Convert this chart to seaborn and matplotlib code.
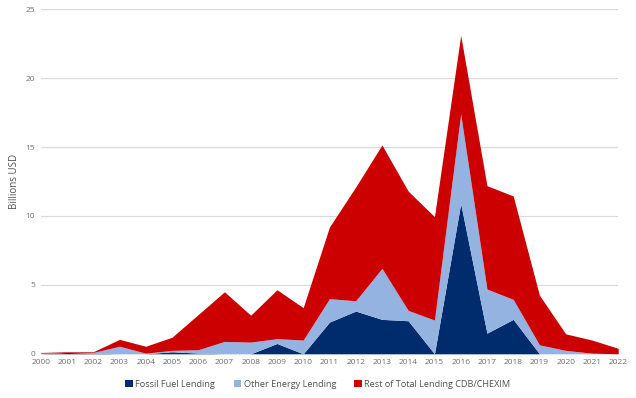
import pandas as pd
import numpy as np
import matplotlib
matplotlib.use("Agg")
import matplotlib.pyplot as plt
import seaborn as sns
from matplotlib.patches import Patch

years = list(range(2000, 2023))

# stacked tops (billions USD)
fossil = [0.0, 0.1, 0.05, 0.0, 0.0, 0.15, 0.05, 0.0, 0.0, 0.75, 0.0, 2.3,
          3.1, 2.5, 2.4, 0.0, 10.9, 1.5, 2.5, 0.0, 0.0, 0.0, 0.0]
energy_top = [0.05, 0.1, 0.1, 0.55, 0.05, 0.25, 0.3, 0.9, 0.85, 1.1, 1.0, 4.0,
              3.85, 6.2, 3.15, 2.45, 17.4, 4.7, 3.95, 0.65, 0.25, 0.05, 0.0]
total = [0.1, 0.15, 0.15, 1.05, 0.55, 1.2, 2.85, 4.5, 2.8, 4.65, 3.35, 9.2,
         12.1, 15.15, 11.8, 9.95, 23.1, 12.2, 11.45, 4.25, 1.45, 1.0, 0.4]

other = [b - a for a, b in zip(fossil, energy_top)]
rest = [c - b for b, c in zip(energy_top, total)]

series = ["Fossil Fuel Lending", "Other Energy Lending", "Rest of Total Lending CDB/CHEXIM"]
colors = ["#002C6E", "#95B3E0", "#CC0000"]

df = pd.DataFrame({"year": years * 3,
                   "value": fossil + other + rest,
                   "series": [series[0]] * len(years) + [series[1]] * len(years) + [series[2]] * len(years)})

sns.set_theme(style="white")
plt.rcParams["font.family"] = ["Open Sans", "DejaVu Sans"]

fig, ax = plt.subplots(figsize=(6.36, 3.98), dpi=100)
fig.subplots_adjust(left=0.064, right=0.972, top=0.977, bottom=0.111)

wide = df.pivot(index="year", columns="series", values="value")[series]
ax.stackplot(wide.index, [wide[s] for s in series], colors=colors, linewidth=0, zorder=3)

ax.set_xlim(2000, 2022)
ax.set_ylim(0, 25)
ax.set_xticks(years)
ax.set_yticks([0, 5, 10, 15, 20, 25])
ax.tick_params(axis="both", labelsize=6, colors="#707070", length=0, pad=4)
ax.yaxis.grid(True, color="#DADADA", linewidth=0.9, zorder=0)
ax.xaxis.grid(False)
sns.despine(ax=ax, left=True, bottom=True)
ax.set_ylabel("Billions USD", fontsize=7, color="#505050")
ax.yaxis.set_label_coords(-0.035, 0.5)
ax.set_xlabel("")

handles = [Patch(facecolor=c, edgecolor="none") for c in colors]
fig.legend(handles, series, loc="center", bbox_to_anchor=(0.5, 0.035), ncol=3,
           frameon=False, fontsize=6.6, handlelength=0.8, handleheight=0.8,
           handletextpad=0.3, columnspacing=2.0, labelcolor="#505050")

fig.savefig("out.png", dpi=100)
